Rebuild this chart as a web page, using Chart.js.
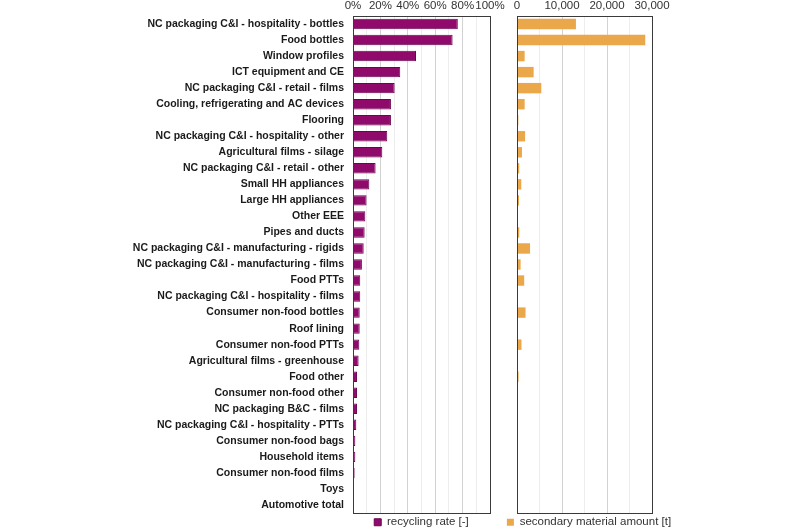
<!DOCTYPE html>
<html>
<head>
<meta charset="utf-8">
<script src="https://cdn.jsdelivr.net/npm/chart.js@4"></script>
<style>
  body { margin: 0; background: #fff; }
  #wrap { position: relative; width: 800px; height: 530px; }
  .box { position: absolute; top: 0; height: 530px; }
</style>
</head>
<body>
<div id="wrap">
  <div class="box" style="left:0;width:505px"><canvas id="rateChart"></canvas></div>
  <div class="box" style="left:500px;width:178px"><canvas id="amountChart"></canvas></div>
</div>
<script>
// categorias (orden de arriba hacia abajo)
const categorias = [
  'NC packaging C&I - hospitality - bottles',
  'Food bottles',
  'Window profiles',
  'ICT equipment and CE',
  'NC packaging C&I - retail - films',
  'Cooling, refrigerating and AC devices',
  'Flooring',
  'NC packaging C&I - hospitality - other',
  'Agricultural films - silage',
  'NC packaging C&I - retail - other',
  'Small HH appliances',
  'Large HH appliances',
  'Other EEE',
  'Pipes and ducts',
  'NC packaging C&I - manufacturing - rigids',
  'NC packaging C&I - manufacturing - films',
  'Food PTTs',
  'NC packaging C&I - hospitality - films',
  'Consumer non-food bottles',
  'Roof lining',
  'Consumer non-food PTTs',
  'Agricultural films - greenhouse',
  'Food other',
  'Consumer non-food other',
  'NC packaging B&C - films',
  'NC packaging C&I - hospitality - PTTs',
  'Consumer non-food bags',
  'Household items',
  'Consumer non-food films',
  'Toys',
  'Automotive total'
];

// recycling rate [%]
const tasaReciclaje = [
  76.5, 72.7, 46, 34.5, 30.4, 27.7, 27.7, 25, 21.4, 16.5,
  11.9, 9.9, 9, 8.5, 7.8, 6.5, 5.3, 5.3, 4.9, 4.9,
  4.6, 4.1, 2.9, 2.9, 2.9, 2.4, 1.7, 1.7, 1.2, 0, 0
];

// secondary material amount [t]
const materialSecundario = [
  13100, 28500, 1700, 3700, 5400, 1700, 300, 1800, 1100, 500,
  950, 450, 0, 500, 2900, 800, 1600, 0, 1900, 0,
  1000, 0, 350, 200, 120, 80, 60, 60, 40, 0, 0
];

const ticksTasa = [0, 20, 40, 60, 80, 100];
const ticksMaterial = [0, 10000, 20000, 30000];

const fuente = 'Arial, "Liberation Sans", sans-serif';

// marco alrededor del area del grafico
const marco = {
  id: 'marco',
  afterDraw(chart) {
    const { ctx, chartArea: a } = chart;
    ctx.save();
    ctx.strokeStyle = '#3a3a3a';
    ctx.lineWidth = 1;
    ctx.strokeRect(Math.round(a.left) + 0.5, Math.round(a.top) + 0.5,
      Math.round(a.right - a.left), Math.round(a.bottom - a.top));
    ctx.restore();
  }
};

function gridColor(ctx, mayor) {
  if (ctx.tick && ctx.tick.value % mayor === 0) return '#d2d2d2';
  return '#ededed';
}

function leyenda(fullSize) {
  return {
    position: 'bottom',
    fullSize: fullSize,
    labels: {
      boxWidth: 7,
      boxHeight: 7,
      padding: 3.5,
      color: '#333',
      font: { family: fuente, size: 11.5 }
    }
  };
}

// eje x superior, sin margen extra por las etiquetas
function ejeX(max, paso, lista, formato, mayor) {
  return {
    position: 'top',
    min: 0,
    max: max,
    afterFit: (s) => { s.height = 16; s.paddingLeft = 0; s.paddingRight = 0; },
    afterBuildTicks: (s) => {
      s.ticks = [];
      for (let v = 0; v <= max; v += paso) s.ticks.push({ value: v });
    },
    ticks: {
      autoSkip: false,
      maxRotation: 0,
      padding: 3,
      color: '#333',
      font: { family: fuente, size: 11.5 },
      callback: (v) => lista.includes(v) ? formato(v) : ''
    },
    grid: { drawTicks: false, color: (c) => gridColor(c, mayor) },
    border: { display: false }
  };
}

new Chart(document.getElementById('rateChart'), {
  type: 'bar',
  data: {
    labels: categorias,
    datasets: [{
      label: 'recycling rate [-]',
      data: tasaReciclaje,
      backgroundColor: '#900a6b',
      borderColor: '#6a0550',
      borderWidth: 1,
      barPercentage: 0.65,
      categoryPercentage: 1
    }]
  },
  options: {
    indexAxis: 'y',
    responsive: true,
    maintainAspectRatio: false,
    animation: false,
    layout: { padding: { left: 0, right: 15, top: 0, bottom: -8 } },
    plugins: { legend: leyenda(false), tooltip: { enabled: false } },
    scales: {
      x: ejeX(100, 10, ticksTasa, (v) => v + '%', 20),
      y: {
        afterFit: (s) => { s.width = 353; },
        ticks: {
          autoSkip: false,
          padding: 9,
          color: '#1a1a1a',
          font: { family: fuente, size: 10.5, weight: 'bold' }
        },
        grid: { display: false, drawTicks: false },
        border: { display: false }
      }
    }
  },
  plugins: [marco]
});

new Chart(document.getElementById('amountChart'), {
  type: 'bar',
  data: {
    labels: categorias,
    datasets: [{
      label: 'secondary material amount [t]',
      data: materialSecundario,
      backgroundColor: '#eba84b',
      borderWidth: 0,
      barPercentage: 0.65,
      categoryPercentage: 1
    }]
  },
  options: {
    indexAxis: 'y',
    responsive: true,
    maintainAspectRatio: false,
    animation: false,
    layout: { padding: { left: 0, right: 0, top: 0, bottom: -8 } },
    plugins: { legend: leyenda(true), tooltip: { enabled: false } },
    scales: {
      x: ejeX(30000, 5000, ticksMaterial, (v) => v.toLocaleString('en-US'), 10000),
      y: {
        afterFit: (s) => { s.width = 17; },
        ticks: { display: false },
        grid: { display: false, drawTicks: false },
        border: { display: false }
      },
      yDer: {
        axis: 'y',
        type: 'category',
        position: 'right',
        afterFit: (s) => { s.width = 26; },
        ticks: { display: false },
        grid: { display: false, drawTicks: false },
        border: { display: false }
      }
    }
  },
  plugins: [marco]
});
</script>
</body>
</html>
